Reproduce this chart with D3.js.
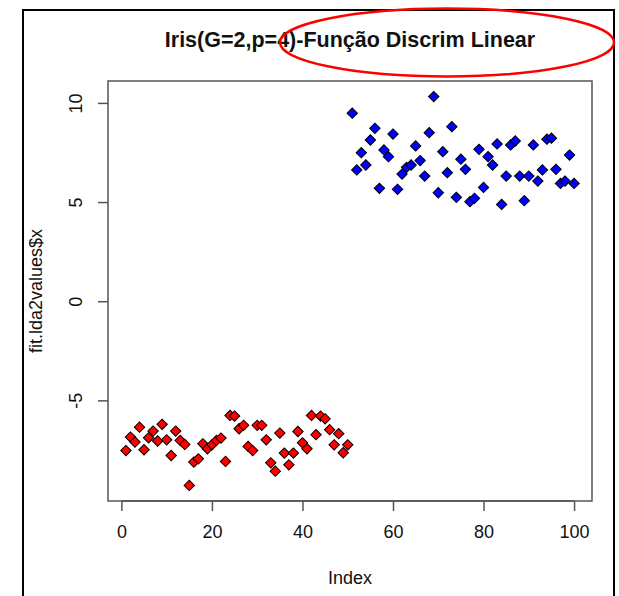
<!DOCTYPE html>
<html>
<head>
<meta charset="utf-8">
<script src="https://cdn.jsdelivr.net/npm/d3@7"></script>
<style>
  body { margin: 0; background: #fff; }
  text { font-family: "Liberation Sans", Arial, sans-serif; fill: #111; }
</style>
</head>
<body>
<div id="chart"></div>
<script>
// discriminant scores, grupo 1 (indices 1-50) and grupo 2 (51-100)
var group1 = [-7.53, -6.85, -7.10, -6.35, -7.49, -6.89, -6.55, -7.05, -6.21, -6.99,
              -7.78, -6.55, -7.02, -7.22, -9.29, -8.11, -7.95, -7.19, -7.44, -7.24,
              -7.02, -6.90, -8.08, -5.76, -5.79, -6.43, -6.26, -7.32, -7.53, -6.26,
              -6.26, -6.99, -8.15, -8.57, -6.65, -7.66, -8.25, -7.66, -6.57, -7.14,
              -7.44, -5.76, -6.73, -5.79, -5.93, -6.48, -7.24, -6.68, -7.64, -7.24];
var group2 = [9.48, 6.62, 7.49, 6.87, 8.13, 8.72, 5.69, 7.63, 7.29, 8.43,
              5.64, 6.41, 6.75, 6.87, 7.83, 7.09, 6.31, 8.50, 10.32, 5.47,
              7.54, 6.48, 8.80, 5.24, 7.16, 6.65, 5.02, 5.19, 7.66, 5.74,
              7.29, 6.87, 7.93, 4.88, 6.31, 7.88, 8.08, 6.31, 5.07, 6.31,
              7.88, 6.06, 6.62, 8.17, 8.22, 6.65, 5.94, 6.06, 7.37, 5.94];
var groupColors = ["#ff0000", "#0000ff"];
var xTicks = [0, 20, 40, 60, 80, 100];
var yTicks = [-5, 0, 5, 10];
var title = "Iris(G=2,p=4)-Função Discrim Linear";

var width = 619, height = 596;
var box = {left: 108, right: 592, top: 81, bottom: 501};

var points = [];
group1.forEach(function(v, i) { points.push({i: i + 1, v: v, g: 0}); });
group2.forEach(function(v, i) { points.push({i: group1.length + i + 1, v: v, g: 1}); });

// R style 4% padding on both axes
function pad(ext) { var p = (ext[1] - ext[0]) * 0.04; return [ext[0] - p, ext[1] + p]; }

var x = d3.scaleLinear().domain(pad([1, points.length])).range([box.left, box.right]);
var y = d3.scaleLinear().domain(pad(d3.extent(points, function(d) { return d.v; }))).range([box.bottom, box.top]);

var svg = d3.select("#chart").append("svg")
    .attr("width", width)
    .attr("height", height);

svg.append("rect")
    .attr("width", width).attr("height", height)
    .attr("fill", "#fff");

// outer frame of the screenshot
svg.append("rect")
    .attr("x", 23).attr("y", 10)
    .attr("width", 591).attr("height", 620)
    .attr("fill", "none")
    .attr("stroke", "#000")
    .attr("stroke-width", 2);

svg.append("text")
    .attr("x", (box.left + box.right) / 2)
    .attr("y", 47)
    .attr("text-anchor", "middle")
    .style("font-size", "21.5px")
    .style("font-weight", "bold")
    .text(title);

// plot box
svg.append("rect")
    .attr("x", box.left).attr("y", box.top)
    .attr("width", box.right - box.left).attr("height", box.bottom - box.top)
    .attr("fill", "none")
    .attr("stroke", "#555")
    .attr("stroke-width", 1.5);

// x axis
var xAxis = svg.append("g")
    .attr("transform", "translate(0," + box.bottom + ")")
    .call(d3.axisBottom(x).tickValues(xTicks).tickSize(10).tickPadding(14));
xAxis.select(".domain").remove();
xAxis.append("line")
    .attr("x1", x(xTicks[0])).attr("x2", x(xTicks[xTicks.length - 1]))
    .attr("stroke", "#555").attr("stroke-width", 1.5);
xAxis.selectAll(".tick line").attr("stroke", "#555").attr("stroke-width", 1.5);
xAxis.selectAll(".tick text")
    .style("font-size", "18px")
    .style("font-family", "'Liberation Sans', Arial, sans-serif")
    .attr("fill", "#111");

// y axis, labels parallel to axis like R (plain hyphen minus)
var yAxis = svg.append("g")
    .attr("transform", "translate(" + box.left + ",0)")
    .call(d3.axisLeft(y).tickValues(yTicks).tickSize(10).tickFormat(function(d) { return String(d); }));
yAxis.select(".domain").remove();
yAxis.selectAll(".tick line").attr("stroke", "#555").attr("stroke-width", 1.5);
yAxis.selectAll(".tick text")
    .attr("x", null).attr("dy", null)
    .attr("transform", "translate(-26,0) rotate(-90)")
    .attr("text-anchor", "middle")
    .style("font-size", "18px")
    .style("font-family", "'Liberation Sans', Arial, sans-serif")
    .attr("fill", "#111");

svg.append("text")
    .attr("x", (box.left + box.right) / 2)
    .attr("y", 584)
    .attr("text-anchor", "middle")
    .style("font-size", "18px")
    .text("Index");

svg.append("text")
    .attr("transform", "translate(42," + ((box.top + box.bottom) / 2) + ") rotate(-90)")
    .attr("text-anchor", "middle")
    .style("font-size", "18px")
    .text("fit.lda2values$x");

// pch 23 style diamonds
var diamond = d3.symbol().type(d3.symbolSquare).size(54);
svg.append("g").selectAll("path")
    .data(points)
  .enter().append("path")
    .attr("d", diamond)
    .attr("transform", function(d) { return "translate(" + x(d.i) + "," + y(d.v) + ") rotate(45)"; })
    .attr("fill", function(d) { return groupColors[d.g]; })
    .attr("stroke", "#000")
    .attr("stroke-width", 1);

// red annotation ellipse drawn over the title
svg.append("ellipse")
    .attr("cx", 447).attr("cy", 42.5)
    .attr("rx", 167).attr("ry", 34)
    .attr("fill", "none")
    .attr("stroke", "#ff0000")
    .attr("stroke-width", 2.5);
</script>
</body>
</html>
